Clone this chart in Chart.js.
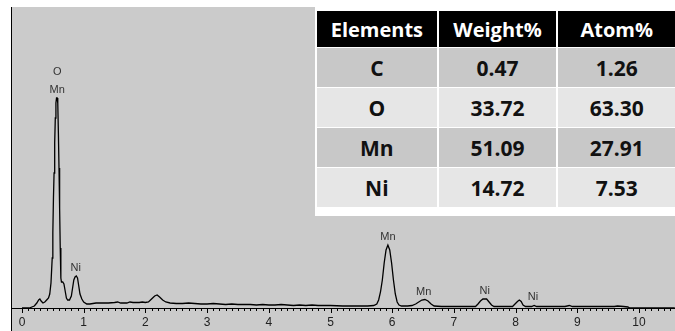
<!DOCTYPE html>
<html>
<head>
<meta charset="utf-8">
<script src="https://cdn.jsdelivr.net/npm/chart.js@4/dist/chart.umd.min.js"></script>
<style>
  html, body { margin: 0; padding: 0; background: #fff; }
  #wrap { position: relative; width: 675px; height: 331px; overflow: hidden; }
  #spectrum { position: absolute; left: 0; top: 0; }
  #comp-box {
    position: absolute; left: 315px; top: 0; width: 360px; height: 216px;
    background: #fff;
  }
  #comp-table {
    position: absolute; left: 2px; top: 11px;
    border-collapse: separate; border-spacing: 2px 1px; margin: -1px -2px;
    font-family: "Open Sans", sans-serif; font-weight: 700; color: #111;
  }
  #comp-table th, #comp-table td { text-align: center; padding: 0; }
  #comp-table th { background: #000; color: #fff; height: 36px; font-size: 20px; }
  #comp-table td { height: 39px; font-size: 21px; }
  #comp-table tr.dark td { background: #c8c8c8; }
  #comp-table tr.light td { background: #e6e6e6; }
</style>
</head>
<body>
<div id="wrap">
  <canvas id="spectrum" width="675" height="331"></canvas>
  <div id="comp-box"><table id="comp-table"><thead></thead><tbody></tbody></table></div>
</div>
<script>
// EDS spectrum (energy in keV, counts in arbitrary units)
const energy = [0.00, 0.12, 0.16, 0.20, 0.24, 0.27, 0.29, 0.31, 0.34, 0.37, 0.40, 0.43, 0.45, 0.47, 0.49,
  0.50, 0.51, 0.52, 0.53, 0.54, 0.55, 0.56, 0.57, 0.58, 0.59, 0.60, 0.61, 0.62, 0.63, 0.64, 0.66, 0.68,
  0.70, 0.72, 0.74, 0.77, 0.80, 0.82, 0.84, 0.86, 0.88, 0.90, 0.92, 0.94, 0.97, 1.00, 1.05, 1.10, 1.20,
  1.30, 1.40, 1.50, 1.55, 1.60, 1.70, 1.75, 1.80, 1.90, 1.95, 2.00, 2.05, 2.10, 2.15, 2.19, 2.23, 2.28,
  2.33, 2.40, 2.50, 2.60, 2.70, 2.80, 2.90, 3.00, 3.10, 3.20, 3.30, 3.40, 3.50, 3.60, 3.70, 3.80, 3.90,
  4.00, 4.10, 4.20, 4.30, 4.40, 4.50, 4.60, 4.70, 4.80, 4.90, 5.00, 5.20, 5.40, 5.60, 5.70, 5.75, 5.78,
  5.81, 5.84, 5.87, 5.90, 5.93, 5.96, 5.99, 6.02, 6.05, 6.08, 6.11, 6.15, 6.25, 6.32, 6.38, 6.43, 6.48,
  6.53, 6.58, 6.63, 6.68, 6.80, 7.00, 7.20, 7.35, 7.39, 7.43, 7.47, 7.53, 7.57, 7.61, 7.65, 7.80, 7.95,
  7.99, 8.03, 8.06, 8.09, 8.12, 8.16, 8.26, 8.30, 8.34, 8.50, 8.80, 8.87, 8.92, 9.20, 9.60, 9.65, 9.75,
  9.82, 9.85, 10.58];
const counts = [0, 0, 1, 2, 5, 8, 9, 7, 5, 6, 8, 10, 14, 25, 50,
  75, 110, 135, 165, 190, 205, 210, 210, 205, 175, 140, 100, 60, 30, 26, 26, 24,
  17, 10, 8, 8, 12, 20, 28, 31, 32, 30, 22, 14, 9, 6, 4, 4, 5,
  5, 5, 5.5, 6, 5, 5, 6, 5.5, 5.5, 6, 5.5, 6, 9, 12, 13, 11, 8,
  6, 5, 4.5, 4.5, 5, 4.5, 4, 4, 4.5, 4, 3.5, 4, 3.5, 3.5, 3.5, 3, 3.5,
  3, 3, 3.5, 3, 2.5, 3, 2.5, 3, 2.5, 2.5, 2.5, 2, 2, 2, 2.5, 4, 8,
  16, 28, 45, 58, 63, 58, 45, 28, 14, 6, 3, 2, 2, 2.5, 4, 6, 8,
  8.5, 7, 4, 2, 1.5, 1.5, 1.5, 1.5, 4, 7, 9, 9, 6, 3, 1.5, 1.5, 1.5,
  4, 6.5, 8, 6.5, 3, 1.5, 1.5, 2.5, 1.5, 1.5, 1.5, 2.5, 1.5, 1.5, 1.5, 2, 1.5,
  1, 0, 0];

// peak identification labels
const peakNames = ['O', 'Mn', 'Ni', 'Mn', 'Mn', 'Ni', 'Ni'];
const peakEnergy = [0.57, 0.57, 0.87, 5.93, 6.51, 7.50, 8.28];
const peakHeight = [236, 218, 40, 71, 16, 17, 11];

const xTicks = [0, 1, 2, 3, 4, 5, 6, 7, 8, 9, 10];
const minorStep = 0.1;

// composition table
const tableHeader = ['Elements', 'Weight%', 'Atom%'];
const elements = ['C', 'O', 'Mn', 'Ni'];
const weightPct = ['0.47', '33.72', '51.09', '14.72'];
const atomPct = ['1.26', '63.30', '27.91', '7.53'];

// build table
const thead = document.querySelector('#comp-table thead');
const tbody = document.querySelector('#comp-table tbody');
thead.innerHTML = '<tr>' + tableHeader.map((h, i) =>
  `<th style="width:${[120, 118, 117][i]}px">${h}</th>`).join('') + '</tr>';
elements.forEach((el, i) => {
  const row = document.createElement('tr');
  row.className = i % 2 === 0 ? 'dark' : 'light';
  row.innerHTML = `<td>${el}</td><td>${weightPct[i]}</td><td>${atomPct[i]}</td>`;
  tbody.appendChild(row);
});

const frame = {
  id: 'frame',
  beforeDraw(chart) {
    const { ctx, chartArea } = chart;
    ctx.save();
    ctx.fillStyle = '#cbcbcb';
    ctx.fillRect(chartArea.left, chartArea.top, chart.width - chartArea.left, chart.height - chartArea.top);
    ctx.restore();
  },
  afterDraw(chart) {
    const { ctx, chartArea } = chart;
    const x = chart.scales.x;
    ctx.save();
    ctx.strokeStyle = '#000';
    ctx.lineWidth = 1;
    // left frame line
    ctx.beginPath();
    ctx.moveTo(chartArea.left + 0.5, chartArea.top);
    ctx.lineTo(chartArea.left + 0.5, chart.height);
    ctx.stroke();
    // minor and major ticks below the axis
    const base = chartArea.bottom;
    for (let i = 0; i * minorStep <= x.max; i++) {
      const v = i * minorStep;
      const px = Math.round(x.getPixelForValue(v)) + 0.5;
      const major = i % 10 === 0;
      ctx.beginPath();
      ctx.moveTo(px, base);
      ctx.lineTo(px, base + (major ? 5 : 3));
      ctx.stroke();
    }
    ctx.restore();
  },
  afterDatasetsDraw(chart) {
    const { ctx } = chart;
    const x = chart.scales.x, y = chart.scales.y;
    ctx.save();
    ctx.fillStyle = '#333';
    ctx.font = '11px "Liberation Sans", Arial, sans-serif';
    ctx.textAlign = 'center';
    ctx.textBaseline = 'middle';
    peakNames.forEach((n, i) => {
      ctx.fillText(n, x.getPixelForValue(peakEnergy[i]), y.getPixelForValue(peakHeight[i]));
    });
    ctx.restore();
  }
};

new Chart(document.getElementById('spectrum'), {
  type: 'line',
  data: {
    datasets: [{
      data: energy.map((e, i) => ({ x: e, y: counts[i] })),
      borderColor: '#000',
      borderWidth: 1.3,
      pointRadius: 0,
      tension: 0,
      fill: false
    }]
  },
  options: {
    responsive: false,
    animation: false,
    events: [],
    layout: { padding: { left: 11, top: 7, right: 0, bottom: 0 } },
    plugins: { legend: { display: false }, tooltip: { enabled: false } },
    scales: {
      x: {
        type: 'linear',
        min: -0.178,
        max: 10.583,
        afterBuildTicks(scale) { scale.ticks = xTicks.map(v => ({ value: v })); },
        afterFit(scale) { scale.height = 23; },
        grid: { display: false, drawTicks: false },
        border: { display: true, color: '#000', width: 1 },
        ticks: {
          autoSkip: false,
          maxRotation: 0,
          padding: 7,
          color: '#222',
          font: { family: '"Liberation Sans", Arial, sans-serif', size: 12 }
        }
      },
      y: {
        display: false,
        min: 0,
        max: 301
      }
    }
  },
  plugins: [frame]
});
</script>
</body>
</html>
